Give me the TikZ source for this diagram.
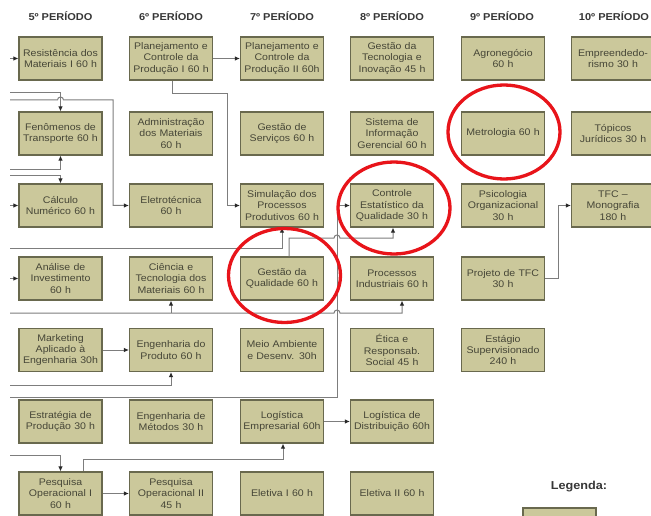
\documentclass[tikz,border=0pt]{standalone}
\usepackage{fontspec}
\setmainfont{Liberation Sans}
\newfontfamily\boxfont[FakeStretch=1.1]{Liberation Sans}
\usetikzlibrary{arrows.meta}
\definecolor{boxfill}{RGB}{203,200,155}
\definecolor{boxborder}{RGB}{105,105,78}
\definecolor{boxtext}{RGB}{70,70,55}
\definecolor{headtext}{RGB}{55,55,55}
\definecolor{linegray}{RGB}{125,125,125}
\definecolor{arrowcol}{RGB}{40,40,40}
\definecolor{ringred}{RGB}{232,20,26}
\begin{document}
\begin{tikzpicture}[x=1pt,y=-1pt,
  course/.style={draw=boxborder, fill=boxfill, line width=1.2pt, minimum width=83pt, minimum height=43pt,
    inner sep=0pt, text width=82pt, align=center, font=\boxfont\fontsize{9.6}{11.2}\selectfont, text=boxtext},
  head/.style={font=\boxfont\bfseries\fontsize{10}{12}\selectfont, text=headtext},
  link/.style={draw=linegray, line width=1pt, -{Latex[length=5pt,width=4.5pt,color=arrowcol]}},
  plainlink/.style={draw=linegray, line width=1pt},
  ring/.style={draw=ringred, line width=3.3pt}
]
\useasboundingbox (0,0) rectangle (651,516);
\fill[white] (0,0) rectangle (651,516);

% headers
\node[head] (h5) at (60.5,16) {5º PERÍODO};
\node[head] (h6) at (171,16) {6º PERÍODO};
\node[head] (h7) at (282,16) {7º PERÍODO};
\node[head] (h8) at (392,16) {8º PERÍODO};
\node[head] (h9) at (502,16) {9º PERÍODO};
\node[head] (h10) at (614,16) {10º PERÍODO};

% column 5
\node[course] (c5r1) at (60.5,58.5) {Resistência dos\\Materiais I 60 h};
\node[course] (c5r2) at (60.5,133.5) {Fenômenos de\\Transporte 60 h};
\node[course] (c5r3) at (60.5,205.5) {Cálculo\\Numérico 60 h};
\node[course] (c5r4) at (60.5,278.5) {Análise de\\Investimento\\60 h};
\node[course] (c5r5) at (60.5,350) {Marketing\\Aplicado à\\Engenharia 30h};
\node[course] (c5r6) at (60.5,421.5) {Estratégia de\\Produção 30 h};
\node[course] (c5r7) at (60.5,493.5) {Pesquisa\\Operacional I\\60 h};
% column 6
\node[course] (c6r1) at (171,58.5) {Planejamento e\\Controle da\\Produção I 60 h};
\node[course] (c6r2) at (171,133.5) {Administração\\dos Materiais\\60 h};
\node[course] (c6r3) at (171,205.5) {Eletrotécnica\\60 h};
\node[course] (c6r4) at (171,278.5) {Ciência e\\Tecnologia dos\\Materiais 60 h};
\node[course] (c6r5) at (171,350) {Engenharia do\\Produto 60 h};
\node[course] (c6r6) at (171,421.5) {Engenharia de\\Métodos 30 h};
\node[course] (c6r7) at (171,493.5) {Pesquisa\\Operacional II\\45 h};
% column 7
\node[course] (c7r1) at (282,58.5) {Planejamento e\\Controle da\\Produção II 60h};
\node[course] (c7r2) at (282,133.5) {Gestão de\\Serviços 60 h};
\node[course] (c7r3) at (282,205.5) {Simulação dos\\Processos\\Produtivos 60 h};
\node[course] (c7r4) at (282,278.5) {Gestão da\\Qualidade 60 h};
\node[course] (c7r5) at (282,350) {Meio Ambiente\\e Desenv. 30h};
\node[course] (c7r6) at (282,421.5) {Logística\\Empresarial 60h};
\node[course] (c7r7) at (282,493.5) {Eletiva I 60 h};
% column 8
\node[course] (c8r1) at (392,58.5) {Gestão da\\Tecnologia e\\Inovação 45 h};
\node[course] (c8r2) at (392,133.5) {Sistema de\\Informação\\Gerencial 60 h};
\node[course] (c8r3) at (392,205.5) {Controle\\Estatístico da\\Qualidade 30 h};
\node[course] (c8r4) at (392,278.5) {Processos\\Industriais 60 h};
\node[course] (c8r5) at (392,350) {Ética e\\Responsab.\\Social 45 h};
\node[course] (c8r6) at (392,421.5) {Logística de\\Distribuição 60h};
\node[course] (c8r7) at (392,493.5) {Eletiva II 60 h};
% column 9
\node[course] (c9r1) at (503,58.5) {Agronegócio\\60 h};
\node[course] (c9r2) at (503,133.5) {Metrologia 60 h};
\node[course] (c9r3) at (503,205.5) {Psicologia\\Organizacional\\30 h};
\node[course] (c9r4) at (503,278.5) {Projeto de TFC\\30 h};
\node[course] (c9r5) at (503,350) {Estágio\\Supervisionado\\240 h};
% column 10
\node[course] (c10r1) at (613,58.5) {Empreendedo-\\rismo 30 h};
\node[course] (c10r2) at (613,133.5) {Tópicos\\Jurídicos 30 h};
\node[course] (c10r3) at (613,205.5) {TFC –\\Monografia\\180 h};

% free ends on the left
\coordinate (L1) at (10,58.5);
\coordinate (L2) at (10,93);
\coordinate (L3) at (10,100);
\coordinate (L4) at (10,170);
\coordinate (L5) at (10,176);
\coordinate (L6) at (10,205.5);
\coordinate (L7) at (10,248);
\coordinate (L8) at (10,278.5);
\coordinate (L9) at (10,313);
\coordinate (L10) at (10,385);
\coordinate (L11) at (10,397);
\coordinate (L12) at (10,455);

\draw[link] (L1) -- (c5r1.west);
\draw[link] (L2) -- (60.5,93) -- (c5r2.north);
\draw[link] (L3) -- (57.5,100) arc[start angle=180,end angle=360,radius=3] -- (113,100) -- (113,205.5) -- (c6r3.west);
\draw[link] (L4) -- (60.5,170) -- (c5r2.south);
\draw[link] (L5) -- (60.5,176) -- (c5r3.north);
\draw[link] (L6) -- (c5r3.west);
\draw[link] (L7) -- (282,248) -- (c7r3.south);
\draw[link] (L8) -- (c5r4.west);
\draw[link] (L9) -- (334,313) arc[start angle=180,end angle=360,radius=3] -- (402,313) -- (c8r4.south -| 402,0);
\draw[link] (171,313) -- (c6r4.south);
\draw[link] (c7r4.north -| 289,0) -- (289,238) -- (334,238) arc[start angle=180,end angle=360,radius=3] -- (393,238) -- (c8r3.south -| 393,0);
\draw[link] (L10) -- (171,385) -- (c6r5.south);
\draw[link] (L11) -- (337,397) -- (337,205.5) -- (c8r3.west);
\draw[link] (L12) -- (60.5,455) -- (c5r7.north);
\draw[link] (c5r7.north -| 83,0) -- (83,459) -- (283,459) -- (c7r6.south -| 283,0);
\draw[link] (c6r1.east) -- (c7r1.west);
\draw[link] (c6r1.south -| 172,0) -- (172,94) -- (227,94) -- (227,205.5) -- (c7r3.west);
\draw[link] (c5r5.east) -- (c6r5.west);
\draw[link] (c5r7.east) -- (c6r7.west);
\draw[link] (c7r6.east) -- (c8r6.west);
\draw[link] (c9r4.east) -- (558,278.5) -- (558,205.5) -- (c10r3.west);

% legend
\node[font=\boxfont\bfseries\fontsize{11.5}{13}\selectfont, text=headtext] (leg) at (579,487) {Legenda:};
\begin{scope}
\clip (0,0) rectangle (651,516);
\draw[draw=boxborder, fill=boxfill, line width=1.2pt] (523,508) rectangle (596,535);
\end{scope}

% red rings
\draw[ring] (504,132) ellipse [x radius=56, y radius=47];
\draw[ring] (394,208) ellipse [x radius=56, y radius=46];
\draw[ring] (284.5,275.5) ellipse [x radius=56, y radius=47];
\end{tikzpicture}
\end{document}
